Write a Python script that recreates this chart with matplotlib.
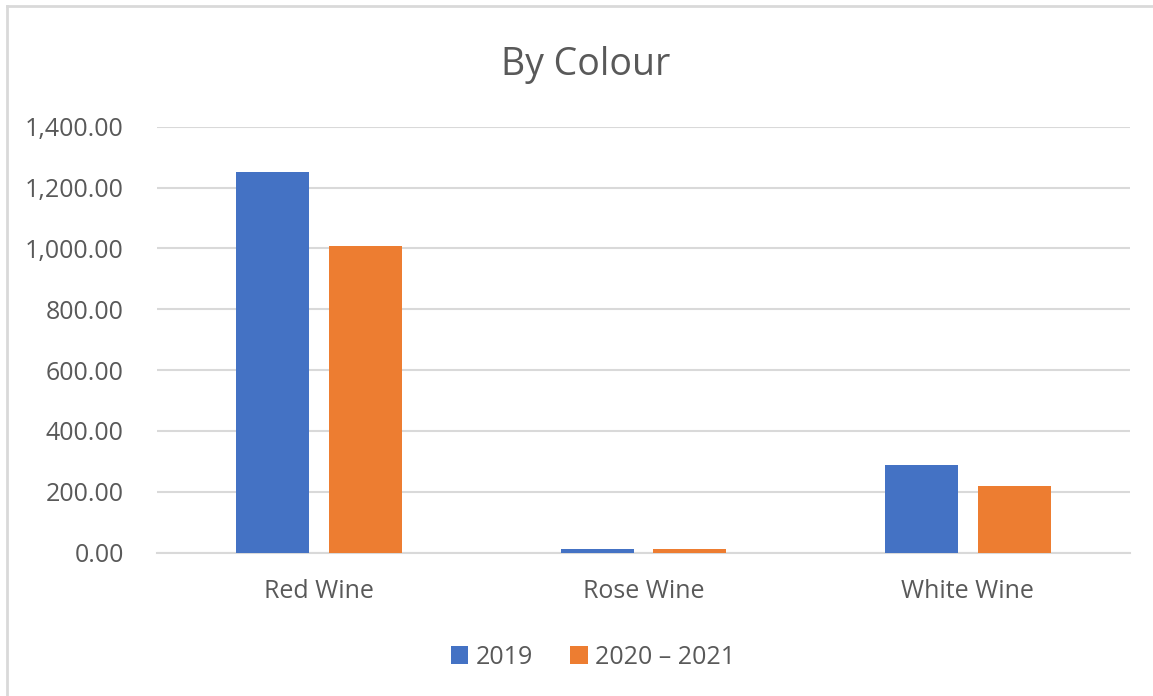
import matplotlib.pyplot as plt
import numpy as np
from matplotlib.lines import Line2D
from matplotlib.patches import Patch

categories = ['Red Wine', 'Rose Wine', 'White Wine']
series_names = ['2019', '2020 – 2021']
values_2019 = [1252, 12, 288]
values_2020_2021 = [1008, 12, 219]
y_ticks = [0, 200, 400, 600, 800, 1000, 1200, 1400]

plt.rcParams['font.family'] = ['Open Sans', 'DejaVu Sans']
text_color = '#595959'
grid_color = '#d9d9d9'
colors = ['#4472C4', '#ED7D31']

fig = plt.figure(figsize=(11.53, 6.96), dpi=100)
ax = fig.add_axes([157 / 1153, 1 - 552.5 / 696, (1130 - 157) / 1153, (552.5 - 126.7) / 696])

x = np.arange(len(categories))
width = 0.225
offset = 0.143
ax.bar(x - offset, values_2019, width, color=colors[0], zorder=3)
ax.bar(x + offset, values_2020_2021, width, color=colors[1], zorder=3)

ax.set_xlim(-0.5, len(categories) - 0.5)
ax.set_ylim(0, 1400)
ax.set_yticks(y_ticks)
ax.set_yticklabels([f'{v:,.2f}' for v in y_ticks], fontsize=18, color=text_color)
ax.set_xticks(x)
ax.set_xticklabels(categories, fontsize=18, color=text_color)
ax.tick_params(axis='both', length=0)
ax.tick_params(axis='y', pad=24)
ax.tick_params(axis='x', pad=19)
ax.grid(axis='y', color=grid_color, linewidth=1.5, zorder=0)
for side in ['top', 'right', 'left']:
    ax.spines[side].set_visible(False)
ax.spines['bottom'].set_color(grid_color)
ax.spines['bottom'].set_linewidth(1.5)

fig.text(586 / 1153, 1 - 65 / 696, 'By Colour', ha='center', va='center',
         fontsize=27, color=text_color)

handles = [Patch(facecolor=c) for c in colors]
fig.legend(handles, series_names, loc='center', bbox_to_anchor=(593 / 1153, 1 - 657 / 696),
           ncol=2, frameon=False, fontsize=18, labelcolor=text_color,
           handlelength=0.7, handleheight=0.7, handletextpad=0.3, columnspacing=1.5)

# light chart border (top and left edges visible in the reference)
fig.add_artist(Line2D([7 / 1153, 1], [1 - 6 / 696, 1 - 6 / 696], color=grid_color, linewidth=2,
                      transform=fig.transFigure))
fig.add_artist(Line2D([7 / 1153, 7 / 1153], [0, 1 - 6 / 696], color=grid_color, linewidth=2,
                      transform=fig.transFigure))

fig.savefig('out.png', dpi=100)
